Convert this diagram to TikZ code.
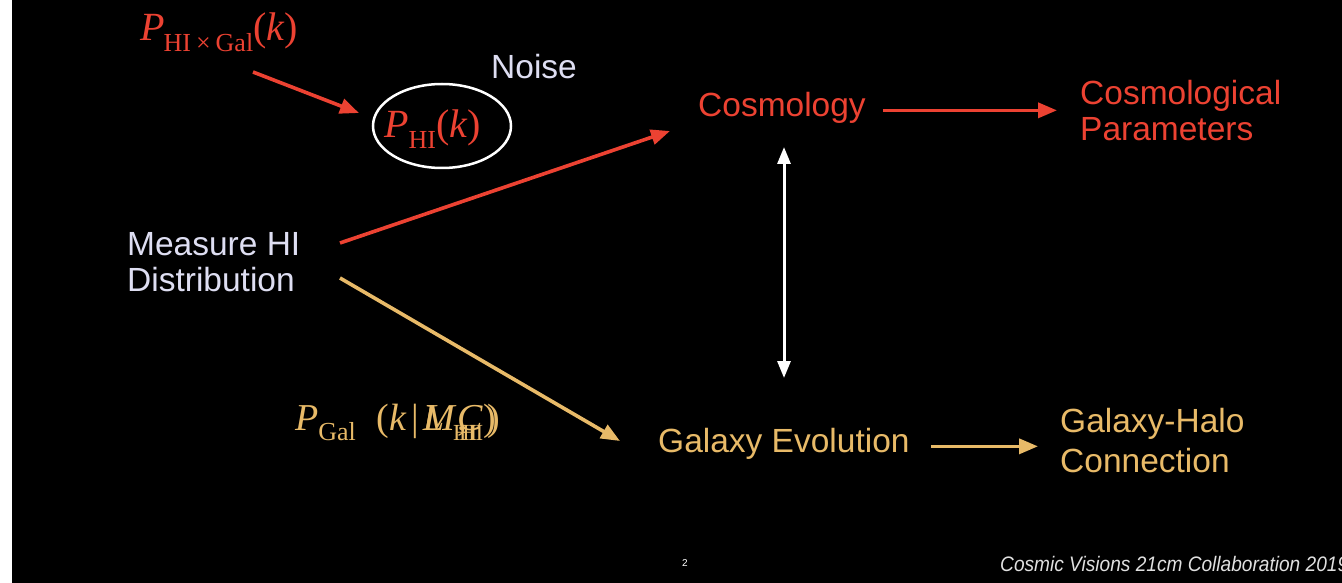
\documentclass[tikz,border=0pt]{standalone}
\usepackage{fontspec}
\setmainfont{Liberation Sans}
\newfontfamily\tms{Liberation Serif}
\usetikzlibrary{arrows.meta,shapes.geometric}
\definecolor{cred}{RGB}{236,66,50}
\definecolor{cgold}{RGB}{232,186,104}
\definecolor{clav}{RGB}{222,222,242}
\newcommand{\subtx}[1]{\raisebox{-10.5pt}{\fontsize{26}{26}\selectfont #1}}
\newcommand{\subtxs}[1]{\raisebox{-10pt}{\fontsize{23}{23}\selectfont #1}}
\tikzset{
  lbl/.style={inner sep=0pt, anchor=base west, font=\fontsize{33.5}{36}\selectfont, align=left},
  mth/.style={inner sep=0pt, anchor=base west, font=\tms\fontsize{40}{40}\selectfont},
  redarr/.style={draw=cred, line width=3.6pt, -{Triangle[length=19pt,width=15pt]}},
  goldarr/.style={draw=cgold, line width=3.6pt, -{Triangle[length=19pt,width=15pt]}},
  whitearr/.style={draw=white, line width=3pt, {Triangle[length=17pt,width=13pt]}-{Triangle[length=17pt,width=13pt]}}
}
\begin{document}
\begin{tikzpicture}[x=1pt,y=-1pt]
\useasboundingbox (0,0) rectangle (1342,583);
\fill[black] (0,0) rectangle (1342,583);
\fill[white] (0,0) rectangle (12,583);
% math labels
\node[mth, text=cred] (pcross) at (140,41) {\textit{P}\kern-1pt\subtx{HI\kern5pt×\kern5pt Gal}(\textit{k})};
\node[mth, text=cred] (phi) at (384,138) {\textit{P}\subtx{HI}(\textit{k})};
\node[draw=white, line width=2.5pt, ellipse, inner sep=0pt, minimum width=138pt, minimum height=84pt] (ell) at (442,126) {};
\node[mth, text=cgold, font=\tms\fontsize{38}{38}\selectfont] (pgal) at (295,430) {\textit{P}\subtx{Gal}\hspace{21pt}(\textit{k}\kern4pt|\kern5pt\rlap{\textit{L}}\textit{M}\rlap{,}\kern-4pt\subtxs{\rlap{HI}\kern6pt HI}\kern-26pt\textit{C}\rlap{)}\kern4pt)};
% text labels
\node[lbl, text=clav] (noise) at (491,79) {Noise};
\node[lbl, text=clav] (measure) at (127,291) {Measure HI\\Distribution};
\node[lbl, text=cred] (cosmo) at (698,117) {Cosmology};
\node[lbl, text=cred] (cparams) at (1080,141) {Cosmological\\Parameters};
\node[lbl, text=cgold] (galevo) at (658,452) {Galaxy Evolution};
\node[lbl, text=cgold, font=\fontsize{33.5}{40}\selectfont] (galhalo) at (1060,472) {Galaxy-Halo\\Connection};
% footer
\node[inner sep=0pt, text=white, font=\fontsize{10}{10}\selectfont] (pnum) at (685,563) {2};
\node[inner sep=0pt, anchor=base west, text=white!88!black, font=\itshape\fontsize{21}{21}\selectfont] (foot) at (1000,571) {\scalebox{0.91}[1]{Cosmic Visions 21cm Collaboration 2019}};
% arrow endpoints
\coordinate (a1s) at (253,72);
\coordinate (a1e) at (359,113);
\coordinate (a2s) at (340,243);
\coordinate (a2e) at (670,131);
\coordinate (a3s) at (340,278);
\coordinate (a3e) at (620,441);
\coordinate (a4s) at (784,147);
\coordinate (a4e) at (784,378);
\draw[redarr] (a1s) -- (a1e);
\draw[redarr] (a2s) -- (a2e);
\draw[goldarr] (a3s) -- (a3e);
\draw[whitearr] (a4s) -- (a4e);
\draw[redarr] ([xshift=17pt,yshift=-2pt]cosmo.east) -- ([xshift=-23pt,yshift=-2pt]cosmo.east -| cparams.west);
\draw[goldarr] ([xshift=21pt,yshift=-3pt]galevo.east) -- ([xshift=-22pt,yshift=-3pt]galevo.east -| galhalo.west);
\end{tikzpicture}
\end{document}
